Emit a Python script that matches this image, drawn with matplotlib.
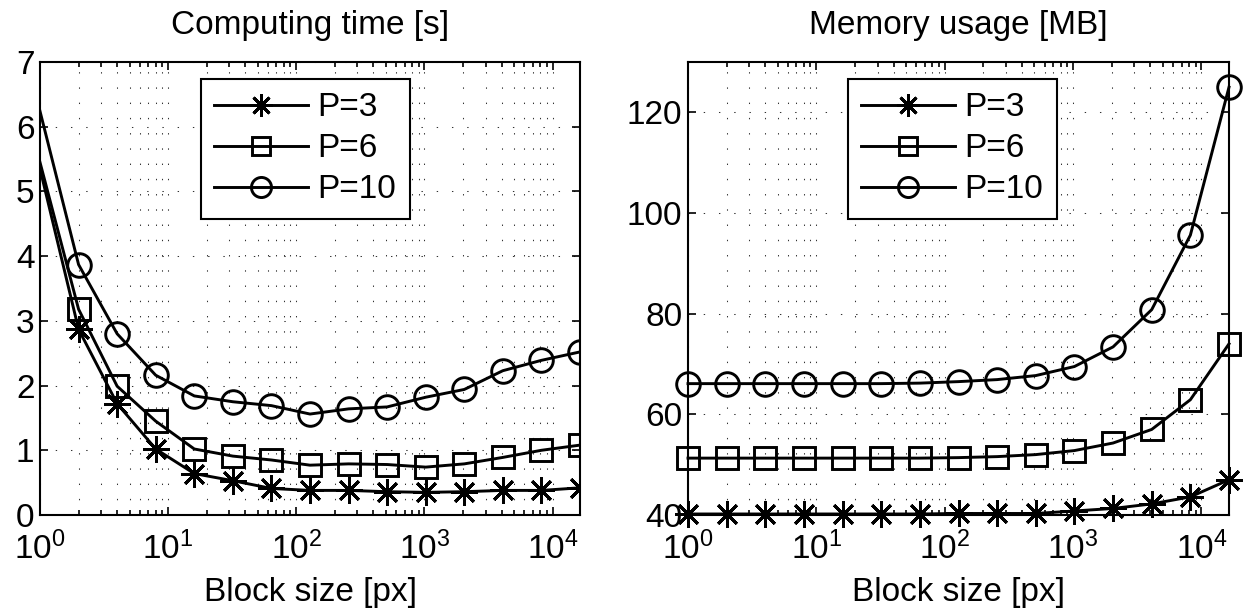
import matplotlib
matplotlib.use("Agg")
import matplotlib.pyplot as plt
from matplotlib.ticker import LogLocator, NullFormatter

plt.rcParams['font.family'] = ['Liberation Sans', 'DejaVu Sans']
plt.rcParams['mathtext.fontset'] = 'custom'
plt.rcParams['mathtext.rm'] = 'Liberation Sans'
plt.rcParams['mathtext.it'] = 'Liberation Sans:italic'
plt.rcParams['mathtext.default'] = 'regular'

# ---- data ----
block_size = [1, 2, 4, 8, 16, 32, 64, 128, 256, 512, 1024, 2048, 4096, 8192, 16384]
labels = ["P=3", "P=6", "P=10"]

time_p3 = [5.35, 2.87, 1.72, 1.02, 0.64, 0.53, 0.41, 0.38, 0.38, 0.36, 0.35, 0.36, 0.38, 0.38, 0.42]
time_p6 = [5.45, 3.18, 1.99, 1.45, 1.02, 0.91, 0.85, 0.77, 0.79, 0.78, 0.74, 0.79, 0.89, 1.00, 1.08]
time_p10 = [6.24, 3.87, 2.80, 2.16, 1.84, 1.75, 1.69, 1.56, 1.64, 1.67, 1.82, 1.94, 2.23, 2.39, 2.52]

mem_p3 = [40.2, 40.2, 40.2, 40.2, 40.2, 40.2, 40.2, 40.3, 40.3, 40.3, 40.8, 41.3, 42.2, 43.6, 47.0]
mem_p6 = [51.3, 51.3, 51.3, 51.3, 51.3, 51.3, 51.3, 51.4, 51.6, 52.0, 52.8, 54.3, 57.0, 62.9, 74.0]
mem_p10 = [66.1, 66.1, 66.1, 66.1, 66.1, 66.1, 66.2, 66.5, 66.9, 67.7, 69.5, 73.4, 80.8, 95.6, 125.0]

time_yticks = [0, 1, 2, 3, 4, 5, 6, 7]
mem_yticks = [40, 60, 80, 100, 120]

FS = 24
W, H = 1253, 614
fig = plt.figure(figsize=(W / 100, H / 100), dpi=100)

def px_ax(x0, x1, y0, y1):
    return fig.add_axes([x0 / W, 1 - y1 / H, (x1 - x0) / W, (y1 - y0) / H])

ax1 = px_ax(40, 580, 62, 515)
ax2 = px_ax(688, 1229, 62, 515)

markers = [(8, 2, 0), 's', 'o']
msizes = [19, 16, 17]
style = dict(color='black', lw=2.1, mfc='none', mec='black', mew=2.1)

def setup(ax, yticks, ylim, title, leg_x):
    ax.set_xscale('log')
    ax.set_xlim(1, 16384)
    ax.set_ylim(*ylim)
    ax.set_yticks(yticks)
    ax.xaxis.set_major_locator(LogLocator(base=10, numticks=10))
    ax.xaxis.set_minor_locator(LogLocator(base=10, subs=range(2, 10), numticks=20))
    ax.xaxis.set_minor_formatter(NullFormatter())
    ax.tick_params(which='both', direction='in', top=True, right=True,
                   labelsize=FS, width=1.2)
    ax.tick_params(axis='x', pad=12)
    ax.tick_params(axis='y', pad=4)
    ax.tick_params(which='major', length=6)
    ax.tick_params(which='minor', length=3.5)
    gstyle = dict(color='#333333', lw=0.75, ls=(0, (1.33, 13.3)))
    ax.grid(True, which='major', **gstyle)
    ax.xaxis.grid(True, which='minor', **gstyle)
    ax.set_axisbelow(True)
    for s in ax.spines.values():
        s.set_linewidth(1.5)
    ax.set_title(title, fontsize=FS, pad=20)
    ax.set_xlabel("Block size [px]", fontsize=FS, labelpad=8)
    leg = ax.legend(loc='upper left', bbox_to_anchor=(leg_x / W, 1 - 79 / H),
                    bbox_transform=fig.transFigure, borderaxespad=0,
                    fontsize=FS, fancybox=False, framealpha=1, edgecolor='black',
                    handlelength=2.8, handletextpad=0.3, labelspacing=0.3,
                    borderpad=0.4, markerscale=0.85)
    leg.get_frame().set_linewidth(1.5)

for ys, m, ms, lab in zip([time_p3, time_p6, time_p10], markers, msizes, labels):
    ax1.plot(block_size, ys, marker=m, ms=ms, markevery=slice(1, None), label=lab,
             clip_on=True, **style)
for ys, m, ms, lab in zip([mem_p3, mem_p6, mem_p10], markers, msizes, labels):
    ax2.plot(block_size, ys, marker=m, ms=ms, label=lab, clip_on=False, **style)

setup(ax1, time_yticks, (0, 7), "Computing time [s]", 201)
setup(ax2, mem_yticks, (40, 130), "Memory usage [MB]", 848)

fig.savefig("out.png", dpi=100)
